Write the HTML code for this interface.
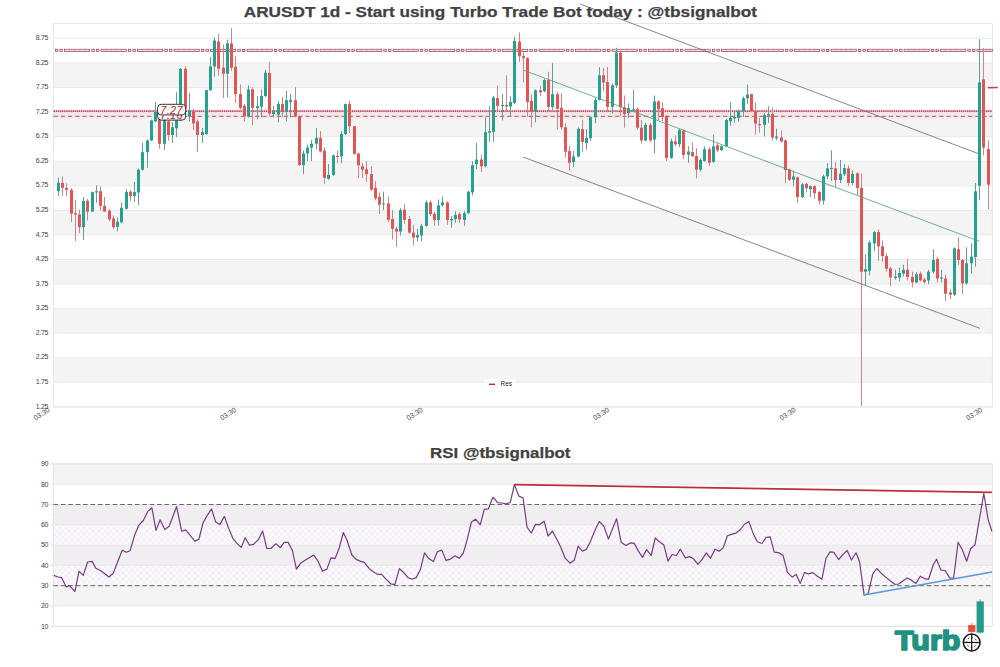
<!DOCTYPE html>
<html><head><meta charset="utf-8"><style>
html,body{margin:0;padding:0;background:#fff;}
body{width:1000px;height:667px;position:relative;overflow:hidden;font-family:"Liberation Sans",sans-serif;}
#root{position:absolute;left:0;top:0;width:1000px;height:667px;}
svg text{font-family:"Liberation Sans",sans-serif;}
.t{position:absolute;left:0;width:1000px;text-align:center;font-weight:bold;color:#424242;-webkit-text-stroke:0.25px #424242;white-space:nowrap;font-family:"Liberation Sans",sans-serif;}
</style></head><body><div id="root">
<svg width="1000" height="667" viewBox="0 0 1000 667" style="position:absolute;left:0;top:0">
<defs><pattern id="hatch" width="6" height="6" patternUnits="userSpaceOnUse"><path d="M0,0 L6,6 M6,0 L0,6" stroke="#ede6f1" stroke-width="0.6"/></pattern><clipPath id="cm"><rect x="53.6" y="23.6" width="938.6999999999999" height="383.4"/></clipPath><clipPath id="cr"><rect x="53.5" y="463.9" width="939.0" height="162.39999999999998"/></clipPath></defs>
<rect x="53.6" y="23.6" width="938.6999999999999" height="383.4" fill="#fff"/>
<rect x="53.6" y="63.0" width="938.6999999999999" height="24.6" fill="#f4f4f4"/>
<rect x="53.6" y="112.1" width="938.6999999999999" height="24.6" fill="#f4f4f4"/>
<rect x="53.6" y="161.2" width="938.6999999999999" height="24.6" fill="#f4f4f4"/>
<rect x="53.6" y="210.4" width="938.6999999999999" height="24.6" fill="#f4f4f4"/>
<rect x="53.6" y="259.5" width="938.6999999999999" height="24.6" fill="#f4f4f4"/>
<rect x="53.6" y="308.6" width="938.6999999999999" height="24.6" fill="#f4f4f4"/>
<rect x="53.6" y="357.7" width="938.6999999999999" height="24.6" fill="#f4f4f4"/>
<line x1="53.6" x2="992.3" y1="38.4" y2="38.4" stroke="#e6e6e6" stroke-width="0.8"/>
<line x1="53.6" x2="992.3" y1="63.0" y2="63.0" stroke="#e6e6e6" stroke-width="0.8"/>
<line x1="53.6" x2="992.3" y1="87.5" y2="87.5" stroke="#e6e6e6" stroke-width="0.8"/>
<line x1="53.6" x2="992.3" y1="112.1" y2="112.1" stroke="#e6e6e6" stroke-width="0.8"/>
<line x1="53.6" x2="992.3" y1="136.7" y2="136.7" stroke="#e6e6e6" stroke-width="0.8"/>
<line x1="53.6" x2="992.3" y1="161.2" y2="161.2" stroke="#e6e6e6" stroke-width="0.8"/>
<line x1="53.6" x2="992.3" y1="185.8" y2="185.8" stroke="#e6e6e6" stroke-width="0.8"/>
<line x1="53.6" x2="992.3" y1="210.4" y2="210.4" stroke="#e6e6e6" stroke-width="0.8"/>
<line x1="53.6" x2="992.3" y1="234.9" y2="234.9" stroke="#e6e6e6" stroke-width="0.8"/>
<line x1="53.6" x2="992.3" y1="259.5" y2="259.5" stroke="#e6e6e6" stroke-width="0.8"/>
<line x1="53.6" x2="992.3" y1="284.1" y2="284.1" stroke="#e6e6e6" stroke-width="0.8"/>
<line x1="53.6" x2="992.3" y1="308.6" y2="308.6" stroke="#e6e6e6" stroke-width="0.8"/>
<line x1="53.6" x2="992.3" y1="333.2" y2="333.2" stroke="#e6e6e6" stroke-width="0.8"/>
<line x1="53.6" x2="992.3" y1="357.7" y2="357.7" stroke="#e6e6e6" stroke-width="0.8"/>
<line x1="53.6" x2="992.3" y1="382.3" y2="382.3" stroke="#e6e6e6" stroke-width="0.8"/>
<line x1="53.6" x2="992.3" y1="406.9" y2="406.9" stroke="#e6e6e6" stroke-width="0.8"/>
<rect x="53.6" y="23.6" width="938.6999999999999" height="383.4" fill="none" stroke="#e2e2e2" stroke-width="0.8"/>
<text x="48.2" y="40.0" text-anchor="end" font-size="7" fill="#444" letter-spacing="-0.3">8.75</text>
<text x="48.2" y="64.6" text-anchor="end" font-size="7" fill="#444" letter-spacing="-0.3">8.25</text>
<text x="48.2" y="89.1" text-anchor="end" font-size="7" fill="#444" letter-spacing="-0.3">7.75</text>
<text x="48.2" y="113.7" text-anchor="end" font-size="7" fill="#444" letter-spacing="-0.3">7.25</text>
<text x="48.2" y="138.3" text-anchor="end" font-size="7" fill="#444" letter-spacing="-0.3">6.75</text>
<text x="48.2" y="162.8" text-anchor="end" font-size="7" fill="#444" letter-spacing="-0.3">6.25</text>
<text x="48.2" y="187.4" text-anchor="end" font-size="7" fill="#444" letter-spacing="-0.3">5.75</text>
<text x="48.2" y="212.0" text-anchor="end" font-size="7" fill="#444" letter-spacing="-0.3">5.25</text>
<text x="48.2" y="236.5" text-anchor="end" font-size="7" fill="#444" letter-spacing="-0.3">4.75</text>
<text x="48.2" y="261.1" text-anchor="end" font-size="7" fill="#444" letter-spacing="-0.3">4.25</text>
<text x="48.2" y="285.7" text-anchor="end" font-size="7" fill="#444" letter-spacing="-0.3">3.75</text>
<text x="48.2" y="310.2" text-anchor="end" font-size="7" fill="#444" letter-spacing="-0.3">3.25</text>
<text x="48.2" y="334.8" text-anchor="end" font-size="7" fill="#444" letter-spacing="-0.3">2.75</text>
<text x="48.2" y="359.3" text-anchor="end" font-size="7" fill="#444" letter-spacing="-0.3">2.25</text>
<text x="48.2" y="383.9" text-anchor="end" font-size="7" fill="#444" letter-spacing="-0.3">1.75</text>
<text x="48.2" y="408.5" text-anchor="end" font-size="7" fill="#444" letter-spacing="-0.3">1.25</text>
<text transform="translate(50.3,411.0) rotate(-33)" text-anchor="end" font-size="7" fill="#444">03:30</text>
<text transform="translate(236.8,411.0) rotate(-33)" text-anchor="end" font-size="7" fill="#444">03:30</text>
<text transform="translate(423.3,411.0) rotate(-33)" text-anchor="end" font-size="7" fill="#444">03:30</text>
<text transform="translate(609.8,411.0) rotate(-33)" text-anchor="end" font-size="7" fill="#444">03:30</text>
<text transform="translate(796.3,411.0) rotate(-33)" text-anchor="end" font-size="7" fill="#444">03:30</text>
<text transform="translate(982.8,411.0) rotate(-33)" text-anchor="end" font-size="7" fill="#444">03:30</text>
<rect x="53.6" y="109.6" width="938.6999999999999" height="8.4" fill="#f5c6cb" fill-opacity="0.28"/>
<line x1="53.6" x2="992.3" y1="111.1" y2="111.1" stroke="#b44858" stroke-width="1.7" stroke-dasharray="1.4,0.7"/>
<line x1="53.6" x2="992.3" y1="116.3" y2="116.3" stroke="#c8505c" stroke-width="1" stroke-dasharray="4.2,3"/>
<rect x="55.30" y="49.2" width="2.60" height="2.40" fill="#f6e0e4" stroke="#8c3444" stroke-width="0.65"/>
<rect x="59.90" y="49.2" width="2.60" height="2.40" fill="#f6e0e4" stroke="#8c3444" stroke-width="0.65"/>
<rect x="64.50" y="49.2" width="25.30" height="2.40" fill="#f6e0e4" stroke="#8c3444" stroke-width="0.65"/>
<line x1="69.56" x2="69.56" y1="49.2" y2="51.6" stroke="#c07080" stroke-width="0.5"/>
<line x1="74.62" x2="74.62" y1="49.2" y2="51.6" stroke="#c07080" stroke-width="0.5"/>
<line x1="79.68" x2="79.68" y1="49.2" y2="51.6" stroke="#c07080" stroke-width="0.5"/>
<line x1="84.74" x2="84.74" y1="49.2" y2="51.6" stroke="#c07080" stroke-width="0.5"/>
<rect x="91.80" y="49.2" width="2.60" height="2.40" fill="#f6e0e4" stroke="#8c3444" stroke-width="0.65"/>
<rect x="96.40" y="49.2" width="2.60" height="2.40" fill="#f6e0e4" stroke="#8c3444" stroke-width="0.65"/>
<rect x="101.00" y="49.2" width="25.30" height="2.40" fill="#f6e0e4" stroke="#8c3444" stroke-width="0.65"/>
<line x1="106.06" x2="106.06" y1="49.2" y2="51.6" stroke="#c07080" stroke-width="0.5"/>
<line x1="111.12" x2="111.12" y1="49.2" y2="51.6" stroke="#c07080" stroke-width="0.5"/>
<line x1="116.18" x2="116.18" y1="49.2" y2="51.6" stroke="#c07080" stroke-width="0.5"/>
<line x1="121.24" x2="121.24" y1="49.2" y2="51.6" stroke="#c07080" stroke-width="0.5"/>
<rect x="128.30" y="49.2" width="2.60" height="2.40" fill="#f6e0e4" stroke="#8c3444" stroke-width="0.65"/>
<rect x="132.90" y="49.2" width="2.60" height="2.40" fill="#f6e0e4" stroke="#8c3444" stroke-width="0.65"/>
<rect x="137.50" y="49.2" width="25.30" height="2.40" fill="#f6e0e4" stroke="#8c3444" stroke-width="0.65"/>
<line x1="142.56" x2="142.56" y1="49.2" y2="51.6" stroke="#c07080" stroke-width="0.5"/>
<line x1="147.62" x2="147.62" y1="49.2" y2="51.6" stroke="#c07080" stroke-width="0.5"/>
<line x1="152.68" x2="152.68" y1="49.2" y2="51.6" stroke="#c07080" stroke-width="0.5"/>
<line x1="157.74" x2="157.74" y1="49.2" y2="51.6" stroke="#c07080" stroke-width="0.5"/>
<rect x="164.80" y="49.2" width="2.60" height="2.40" fill="#f6e0e4" stroke="#8c3444" stroke-width="0.65"/>
<rect x="169.40" y="49.2" width="2.60" height="2.40" fill="#f6e0e4" stroke="#8c3444" stroke-width="0.65"/>
<rect x="174.00" y="49.2" width="25.30" height="2.40" fill="#f6e0e4" stroke="#8c3444" stroke-width="0.65"/>
<line x1="179.06" x2="179.06" y1="49.2" y2="51.6" stroke="#c07080" stroke-width="0.5"/>
<line x1="184.12" x2="184.12" y1="49.2" y2="51.6" stroke="#c07080" stroke-width="0.5"/>
<line x1="189.18" x2="189.18" y1="49.2" y2="51.6" stroke="#c07080" stroke-width="0.5"/>
<line x1="194.24" x2="194.24" y1="49.2" y2="51.6" stroke="#c07080" stroke-width="0.5"/>
<rect x="201.30" y="49.2" width="2.60" height="2.40" fill="#f6e0e4" stroke="#8c3444" stroke-width="0.65"/>
<rect x="205.90" y="49.2" width="2.60" height="2.40" fill="#f6e0e4" stroke="#8c3444" stroke-width="0.65"/>
<rect x="210.50" y="49.2" width="25.30" height="2.40" fill="#f6e0e4" stroke="#8c3444" stroke-width="0.65"/>
<line x1="215.56" x2="215.56" y1="49.2" y2="51.6" stroke="#c07080" stroke-width="0.5"/>
<line x1="220.62" x2="220.62" y1="49.2" y2="51.6" stroke="#c07080" stroke-width="0.5"/>
<line x1="225.68" x2="225.68" y1="49.2" y2="51.6" stroke="#c07080" stroke-width="0.5"/>
<line x1="230.74" x2="230.74" y1="49.2" y2="51.6" stroke="#c07080" stroke-width="0.5"/>
<rect x="237.80" y="49.2" width="2.60" height="2.40" fill="#f6e0e4" stroke="#8c3444" stroke-width="0.65"/>
<rect x="242.40" y="49.2" width="2.60" height="2.40" fill="#f6e0e4" stroke="#8c3444" stroke-width="0.65"/>
<rect x="247.00" y="49.2" width="25.30" height="2.40" fill="#f6e0e4" stroke="#8c3444" stroke-width="0.65"/>
<line x1="252.06" x2="252.06" y1="49.2" y2="51.6" stroke="#c07080" stroke-width="0.5"/>
<line x1="257.12" x2="257.12" y1="49.2" y2="51.6" stroke="#c07080" stroke-width="0.5"/>
<line x1="262.18" x2="262.18" y1="49.2" y2="51.6" stroke="#c07080" stroke-width="0.5"/>
<line x1="267.24" x2="267.24" y1="49.2" y2="51.6" stroke="#c07080" stroke-width="0.5"/>
<rect x="274.30" y="49.2" width="2.60" height="2.40" fill="#f6e0e4" stroke="#8c3444" stroke-width="0.65"/>
<rect x="278.90" y="49.2" width="2.60" height="2.40" fill="#f6e0e4" stroke="#8c3444" stroke-width="0.65"/>
<rect x="283.50" y="49.2" width="25.30" height="2.40" fill="#f6e0e4" stroke="#8c3444" stroke-width="0.65"/>
<line x1="288.56" x2="288.56" y1="49.2" y2="51.6" stroke="#c07080" stroke-width="0.5"/>
<line x1="293.62" x2="293.62" y1="49.2" y2="51.6" stroke="#c07080" stroke-width="0.5"/>
<line x1="298.68" x2="298.68" y1="49.2" y2="51.6" stroke="#c07080" stroke-width="0.5"/>
<line x1="303.74" x2="303.74" y1="49.2" y2="51.6" stroke="#c07080" stroke-width="0.5"/>
<rect x="310.80" y="49.2" width="2.60" height="2.40" fill="#f6e0e4" stroke="#8c3444" stroke-width="0.65"/>
<rect x="315.40" y="49.2" width="2.60" height="2.40" fill="#f6e0e4" stroke="#8c3444" stroke-width="0.65"/>
<rect x="320.00" y="49.2" width="25.30" height="2.40" fill="#f6e0e4" stroke="#8c3444" stroke-width="0.65"/>
<line x1="325.06" x2="325.06" y1="49.2" y2="51.6" stroke="#c07080" stroke-width="0.5"/>
<line x1="330.12" x2="330.12" y1="49.2" y2="51.6" stroke="#c07080" stroke-width="0.5"/>
<line x1="335.18" x2="335.18" y1="49.2" y2="51.6" stroke="#c07080" stroke-width="0.5"/>
<line x1="340.24" x2="340.24" y1="49.2" y2="51.6" stroke="#c07080" stroke-width="0.5"/>
<rect x="347.30" y="49.2" width="2.60" height="2.40" fill="#f6e0e4" stroke="#8c3444" stroke-width="0.65"/>
<rect x="351.90" y="49.2" width="2.60" height="2.40" fill="#f6e0e4" stroke="#8c3444" stroke-width="0.65"/>
<rect x="356.50" y="49.2" width="25.30" height="2.40" fill="#f6e0e4" stroke="#8c3444" stroke-width="0.65"/>
<line x1="361.56" x2="361.56" y1="49.2" y2="51.6" stroke="#c07080" stroke-width="0.5"/>
<line x1="366.62" x2="366.62" y1="49.2" y2="51.6" stroke="#c07080" stroke-width="0.5"/>
<line x1="371.68" x2="371.68" y1="49.2" y2="51.6" stroke="#c07080" stroke-width="0.5"/>
<line x1="376.74" x2="376.74" y1="49.2" y2="51.6" stroke="#c07080" stroke-width="0.5"/>
<rect x="383.80" y="49.2" width="2.60" height="2.40" fill="#f6e0e4" stroke="#8c3444" stroke-width="0.65"/>
<rect x="388.40" y="49.2" width="2.60" height="2.40" fill="#f6e0e4" stroke="#8c3444" stroke-width="0.65"/>
<rect x="393.00" y="49.2" width="25.30" height="2.40" fill="#f6e0e4" stroke="#8c3444" stroke-width="0.65"/>
<line x1="398.06" x2="398.06" y1="49.2" y2="51.6" stroke="#c07080" stroke-width="0.5"/>
<line x1="403.12" x2="403.12" y1="49.2" y2="51.6" stroke="#c07080" stroke-width="0.5"/>
<line x1="408.18" x2="408.18" y1="49.2" y2="51.6" stroke="#c07080" stroke-width="0.5"/>
<line x1="413.24" x2="413.24" y1="49.2" y2="51.6" stroke="#c07080" stroke-width="0.5"/>
<rect x="420.30" y="49.2" width="2.60" height="2.40" fill="#f6e0e4" stroke="#8c3444" stroke-width="0.65"/>
<rect x="424.90" y="49.2" width="2.60" height="2.40" fill="#f6e0e4" stroke="#8c3444" stroke-width="0.65"/>
<rect x="429.50" y="49.2" width="25.30" height="2.40" fill="#f6e0e4" stroke="#8c3444" stroke-width="0.65"/>
<line x1="434.56" x2="434.56" y1="49.2" y2="51.6" stroke="#c07080" stroke-width="0.5"/>
<line x1="439.62" x2="439.62" y1="49.2" y2="51.6" stroke="#c07080" stroke-width="0.5"/>
<line x1="444.68" x2="444.68" y1="49.2" y2="51.6" stroke="#c07080" stroke-width="0.5"/>
<line x1="449.74" x2="449.74" y1="49.2" y2="51.6" stroke="#c07080" stroke-width="0.5"/>
<rect x="456.80" y="49.2" width="2.60" height="2.40" fill="#f6e0e4" stroke="#8c3444" stroke-width="0.65"/>
<rect x="461.40" y="49.2" width="2.60" height="2.40" fill="#f6e0e4" stroke="#8c3444" stroke-width="0.65"/>
<rect x="466.00" y="49.2" width="25.30" height="2.40" fill="#f6e0e4" stroke="#8c3444" stroke-width="0.65"/>
<line x1="471.06" x2="471.06" y1="49.2" y2="51.6" stroke="#c07080" stroke-width="0.5"/>
<line x1="476.12" x2="476.12" y1="49.2" y2="51.6" stroke="#c07080" stroke-width="0.5"/>
<line x1="481.18" x2="481.18" y1="49.2" y2="51.6" stroke="#c07080" stroke-width="0.5"/>
<line x1="486.24" x2="486.24" y1="49.2" y2="51.6" stroke="#c07080" stroke-width="0.5"/>
<rect x="493.30" y="49.2" width="2.60" height="2.40" fill="#f6e0e4" stroke="#8c3444" stroke-width="0.65"/>
<rect x="497.90" y="49.2" width="2.60" height="2.40" fill="#f6e0e4" stroke="#8c3444" stroke-width="0.65"/>
<rect x="502.50" y="49.2" width="25.30" height="2.40" fill="#f6e0e4" stroke="#8c3444" stroke-width="0.65"/>
<line x1="507.56" x2="507.56" y1="49.2" y2="51.6" stroke="#c07080" stroke-width="0.5"/>
<line x1="512.62" x2="512.62" y1="49.2" y2="51.6" stroke="#c07080" stroke-width="0.5"/>
<line x1="517.68" x2="517.68" y1="49.2" y2="51.6" stroke="#c07080" stroke-width="0.5"/>
<line x1="522.74" x2="522.74" y1="49.2" y2="51.6" stroke="#c07080" stroke-width="0.5"/>
<rect x="529.80" y="49.2" width="2.60" height="2.40" fill="#f6e0e4" stroke="#8c3444" stroke-width="0.65"/>
<rect x="534.40" y="49.2" width="2.60" height="2.40" fill="#f6e0e4" stroke="#8c3444" stroke-width="0.65"/>
<rect x="539.00" y="49.2" width="25.30" height="2.40" fill="#f6e0e4" stroke="#8c3444" stroke-width="0.65"/>
<line x1="544.06" x2="544.06" y1="49.2" y2="51.6" stroke="#c07080" stroke-width="0.5"/>
<line x1="549.12" x2="549.12" y1="49.2" y2="51.6" stroke="#c07080" stroke-width="0.5"/>
<line x1="554.18" x2="554.18" y1="49.2" y2="51.6" stroke="#c07080" stroke-width="0.5"/>
<line x1="559.24" x2="559.24" y1="49.2" y2="51.6" stroke="#c07080" stroke-width="0.5"/>
<rect x="566.30" y="49.2" width="2.60" height="2.40" fill="#f6e0e4" stroke="#8c3444" stroke-width="0.65"/>
<rect x="570.90" y="49.2" width="2.60" height="2.40" fill="#f6e0e4" stroke="#8c3444" stroke-width="0.65"/>
<rect x="575.50" y="49.2" width="25.30" height="2.40" fill="#f6e0e4" stroke="#8c3444" stroke-width="0.65"/>
<line x1="580.56" x2="580.56" y1="49.2" y2="51.6" stroke="#c07080" stroke-width="0.5"/>
<line x1="585.62" x2="585.62" y1="49.2" y2="51.6" stroke="#c07080" stroke-width="0.5"/>
<line x1="590.68" x2="590.68" y1="49.2" y2="51.6" stroke="#c07080" stroke-width="0.5"/>
<line x1="595.74" x2="595.74" y1="49.2" y2="51.6" stroke="#c07080" stroke-width="0.5"/>
<rect x="602.80" y="49.2" width="2.60" height="2.40" fill="#f6e0e4" stroke="#8c3444" stroke-width="0.65"/>
<rect x="607.40" y="49.2" width="2.60" height="2.40" fill="#f6e0e4" stroke="#8c3444" stroke-width="0.65"/>
<rect x="612.00" y="49.2" width="25.30" height="2.40" fill="#f6e0e4" stroke="#8c3444" stroke-width="0.65"/>
<line x1="617.06" x2="617.06" y1="49.2" y2="51.6" stroke="#c07080" stroke-width="0.5"/>
<line x1="622.12" x2="622.12" y1="49.2" y2="51.6" stroke="#c07080" stroke-width="0.5"/>
<line x1="627.18" x2="627.18" y1="49.2" y2="51.6" stroke="#c07080" stroke-width="0.5"/>
<line x1="632.24" x2="632.24" y1="49.2" y2="51.6" stroke="#c07080" stroke-width="0.5"/>
<rect x="639.30" y="49.2" width="2.60" height="2.40" fill="#f6e0e4" stroke="#8c3444" stroke-width="0.65"/>
<rect x="643.90" y="49.2" width="2.60" height="2.40" fill="#f6e0e4" stroke="#8c3444" stroke-width="0.65"/>
<rect x="648.50" y="49.2" width="25.30" height="2.40" fill="#f6e0e4" stroke="#8c3444" stroke-width="0.65"/>
<line x1="653.56" x2="653.56" y1="49.2" y2="51.6" stroke="#c07080" stroke-width="0.5"/>
<line x1="658.62" x2="658.62" y1="49.2" y2="51.6" stroke="#c07080" stroke-width="0.5"/>
<line x1="663.68" x2="663.68" y1="49.2" y2="51.6" stroke="#c07080" stroke-width="0.5"/>
<line x1="668.74" x2="668.74" y1="49.2" y2="51.6" stroke="#c07080" stroke-width="0.5"/>
<rect x="675.80" y="49.2" width="2.60" height="2.40" fill="#f6e0e4" stroke="#8c3444" stroke-width="0.65"/>
<rect x="680.40" y="49.2" width="2.60" height="2.40" fill="#f6e0e4" stroke="#8c3444" stroke-width="0.65"/>
<rect x="685.00" y="49.2" width="25.30" height="2.40" fill="#f6e0e4" stroke="#8c3444" stroke-width="0.65"/>
<line x1="690.06" x2="690.06" y1="49.2" y2="51.6" stroke="#c07080" stroke-width="0.5"/>
<line x1="695.12" x2="695.12" y1="49.2" y2="51.6" stroke="#c07080" stroke-width="0.5"/>
<line x1="700.18" x2="700.18" y1="49.2" y2="51.6" stroke="#c07080" stroke-width="0.5"/>
<line x1="705.24" x2="705.24" y1="49.2" y2="51.6" stroke="#c07080" stroke-width="0.5"/>
<rect x="712.30" y="49.2" width="2.60" height="2.40" fill="#f6e0e4" stroke="#8c3444" stroke-width="0.65"/>
<rect x="716.90" y="49.2" width="2.60" height="2.40" fill="#f6e0e4" stroke="#8c3444" stroke-width="0.65"/>
<rect x="721.50" y="49.2" width="25.30" height="2.40" fill="#f6e0e4" stroke="#8c3444" stroke-width="0.65"/>
<line x1="726.56" x2="726.56" y1="49.2" y2="51.6" stroke="#c07080" stroke-width="0.5"/>
<line x1="731.62" x2="731.62" y1="49.2" y2="51.6" stroke="#c07080" stroke-width="0.5"/>
<line x1="736.68" x2="736.68" y1="49.2" y2="51.6" stroke="#c07080" stroke-width="0.5"/>
<line x1="741.74" x2="741.74" y1="49.2" y2="51.6" stroke="#c07080" stroke-width="0.5"/>
<rect x="748.80" y="49.2" width="2.60" height="2.40" fill="#f6e0e4" stroke="#8c3444" stroke-width="0.65"/>
<rect x="753.40" y="49.2" width="2.60" height="2.40" fill="#f6e0e4" stroke="#8c3444" stroke-width="0.65"/>
<rect x="758.00" y="49.2" width="25.30" height="2.40" fill="#f6e0e4" stroke="#8c3444" stroke-width="0.65"/>
<line x1="763.06" x2="763.06" y1="49.2" y2="51.6" stroke="#c07080" stroke-width="0.5"/>
<line x1="768.12" x2="768.12" y1="49.2" y2="51.6" stroke="#c07080" stroke-width="0.5"/>
<line x1="773.18" x2="773.18" y1="49.2" y2="51.6" stroke="#c07080" stroke-width="0.5"/>
<line x1="778.24" x2="778.24" y1="49.2" y2="51.6" stroke="#c07080" stroke-width="0.5"/>
<rect x="785.30" y="49.2" width="2.60" height="2.40" fill="#f6e0e4" stroke="#8c3444" stroke-width="0.65"/>
<rect x="789.90" y="49.2" width="2.60" height="2.40" fill="#f6e0e4" stroke="#8c3444" stroke-width="0.65"/>
<rect x="794.50" y="49.2" width="25.30" height="2.40" fill="#f6e0e4" stroke="#8c3444" stroke-width="0.65"/>
<line x1="799.56" x2="799.56" y1="49.2" y2="51.6" stroke="#c07080" stroke-width="0.5"/>
<line x1="804.62" x2="804.62" y1="49.2" y2="51.6" stroke="#c07080" stroke-width="0.5"/>
<line x1="809.68" x2="809.68" y1="49.2" y2="51.6" stroke="#c07080" stroke-width="0.5"/>
<line x1="814.74" x2="814.74" y1="49.2" y2="51.6" stroke="#c07080" stroke-width="0.5"/>
<rect x="821.80" y="49.2" width="2.60" height="2.40" fill="#f6e0e4" stroke="#8c3444" stroke-width="0.65"/>
<rect x="826.40" y="49.2" width="2.60" height="2.40" fill="#f6e0e4" stroke="#8c3444" stroke-width="0.65"/>
<rect x="831.00" y="49.2" width="25.30" height="2.40" fill="#f6e0e4" stroke="#8c3444" stroke-width="0.65"/>
<line x1="836.06" x2="836.06" y1="49.2" y2="51.6" stroke="#c07080" stroke-width="0.5"/>
<line x1="841.12" x2="841.12" y1="49.2" y2="51.6" stroke="#c07080" stroke-width="0.5"/>
<line x1="846.18" x2="846.18" y1="49.2" y2="51.6" stroke="#c07080" stroke-width="0.5"/>
<line x1="851.24" x2="851.24" y1="49.2" y2="51.6" stroke="#c07080" stroke-width="0.5"/>
<rect x="858.30" y="49.2" width="2.60" height="2.40" fill="#f6e0e4" stroke="#8c3444" stroke-width="0.65"/>
<rect x="862.90" y="49.2" width="2.60" height="2.40" fill="#f6e0e4" stroke="#8c3444" stroke-width="0.65"/>
<rect x="867.50" y="49.2" width="25.30" height="2.40" fill="#f6e0e4" stroke="#8c3444" stroke-width="0.65"/>
<line x1="872.56" x2="872.56" y1="49.2" y2="51.6" stroke="#c07080" stroke-width="0.5"/>
<line x1="877.62" x2="877.62" y1="49.2" y2="51.6" stroke="#c07080" stroke-width="0.5"/>
<line x1="882.68" x2="882.68" y1="49.2" y2="51.6" stroke="#c07080" stroke-width="0.5"/>
<line x1="887.74" x2="887.74" y1="49.2" y2="51.6" stroke="#c07080" stroke-width="0.5"/>
<rect x="894.80" y="49.2" width="2.60" height="2.40" fill="#f6e0e4" stroke="#8c3444" stroke-width="0.65"/>
<rect x="899.40" y="49.2" width="2.60" height="2.40" fill="#f6e0e4" stroke="#8c3444" stroke-width="0.65"/>
<rect x="904.00" y="49.2" width="25.30" height="2.40" fill="#f6e0e4" stroke="#8c3444" stroke-width="0.65"/>
<line x1="909.06" x2="909.06" y1="49.2" y2="51.6" stroke="#c07080" stroke-width="0.5"/>
<line x1="914.12" x2="914.12" y1="49.2" y2="51.6" stroke="#c07080" stroke-width="0.5"/>
<line x1="919.18" x2="919.18" y1="49.2" y2="51.6" stroke="#c07080" stroke-width="0.5"/>
<line x1="924.24" x2="924.24" y1="49.2" y2="51.6" stroke="#c07080" stroke-width="0.5"/>
<rect x="931.30" y="49.2" width="2.60" height="2.40" fill="#f6e0e4" stroke="#8c3444" stroke-width="0.65"/>
<rect x="935.90" y="49.2" width="2.60" height="2.40" fill="#f6e0e4" stroke="#8c3444" stroke-width="0.65"/>
<rect x="940.50" y="49.2" width="25.30" height="2.40" fill="#f6e0e4" stroke="#8c3444" stroke-width="0.65"/>
<line x1="945.56" x2="945.56" y1="49.2" y2="51.6" stroke="#c07080" stroke-width="0.5"/>
<line x1="950.62" x2="950.62" y1="49.2" y2="51.6" stroke="#c07080" stroke-width="0.5"/>
<line x1="955.68" x2="955.68" y1="49.2" y2="51.6" stroke="#c07080" stroke-width="0.5"/>
<line x1="960.74" x2="960.74" y1="49.2" y2="51.6" stroke="#c07080" stroke-width="0.5"/>
<rect x="967.80" y="49.2" width="2.60" height="2.40" fill="#f6e0e4" stroke="#8c3444" stroke-width="0.65"/>
<rect x="972.40" y="49.2" width="2.60" height="2.40" fill="#f6e0e4" stroke="#8c3444" stroke-width="0.65"/>
<rect x="977.00" y="49.2" width="15.30" height="2.40" fill="#f6e0e4" stroke="#8c3444" stroke-width="0.65"/>
<line x1="980.06" x2="980.06" y1="49.2" y2="51.6" stroke="#c07080" stroke-width="0.5"/>
<line x1="983.12" x2="983.12" y1="49.2" y2="51.6" stroke="#c07080" stroke-width="0.5"/>
<line x1="986.18" x2="986.18" y1="49.2" y2="51.6" stroke="#c07080" stroke-width="0.5"/>
<line x1="989.24" x2="989.24" y1="49.2" y2="51.6" stroke="#c07080" stroke-width="0.5"/>
<g clip-path="url(#cm)">
<line x1="58.50" x2="58.50" y1="177.5" y2="196.0" stroke="#6a9c95" stroke-width="1"/>
<rect x="57" y="182.8" width="3" height="8.4" fill="#26a08f"/>
<line x1="62.50" x2="62.50" y1="176.5" y2="196.0" stroke="#c8878c" stroke-width="1"/>
<rect x="61" y="182.8" width="3" height="5.0" fill="#e05555"/>
<line x1="66.50" x2="66.50" y1="183.4" y2="196.0" stroke="#c8878c" stroke-width="1"/>
<rect x="65" y="187.8" width="3" height="2.0" fill="#e05555"/>
<line x1="71.50" x2="71.50" y1="188.2" y2="222.3" stroke="#c8878c" stroke-width="1"/>
<rect x="70" y="189.8" width="3" height="23.8" fill="#e05555"/>
<line x1="75.50" x2="75.50" y1="200.0" y2="240.9" stroke="#c8878c" stroke-width="1"/>
<rect x="74" y="213.2" width="3" height="1.3" fill="#e05555"/>
<line x1="79.50" x2="79.50" y1="209.7" y2="233.0" stroke="#c8878c" stroke-width="1"/>
<rect x="78" y="214.5" width="3" height="12.7" fill="#e05555"/>
<line x1="83.50" x2="83.50" y1="197.0" y2="239.9" stroke="#6a9c95" stroke-width="1"/>
<rect x="82" y="200.9" width="3" height="26.3" fill="#26a08f"/>
<line x1="87.50" x2="87.50" y1="199.0" y2="220.4" stroke="#c8878c" stroke-width="1"/>
<rect x="86" y="200.9" width="3" height="10.7" fill="#e05555"/>
<line x1="92.50" x2="92.50" y1="191.7" y2="212.0" stroke="#6a9c95" stroke-width="1"/>
<rect x="91" y="192.1" width="3" height="19.5" fill="#26a08f"/>
<line x1="96.50" x2="96.50" y1="185.3" y2="202.8" stroke="#6a9c95" stroke-width="1"/>
<rect x="95" y="191.2" width="3" height="1.3" fill="#26a08f"/>
<line x1="100.50" x2="100.50" y1="186.3" y2="210.6" stroke="#c8878c" stroke-width="1"/>
<rect x="99" y="191.2" width="3" height="14.6" fill="#e05555"/>
<line x1="104.50" x2="104.50" y1="197.0" y2="211.6" stroke="#c8878c" stroke-width="1"/>
<rect x="103" y="205.8" width="3" height="5.8" fill="#e05555"/>
<line x1="109.50" x2="109.50" y1="208.7" y2="221.4" stroke="#c8878c" stroke-width="1"/>
<rect x="108" y="210.6" width="3" height="8.8" fill="#e05555"/>
<line x1="113.50" x2="113.50" y1="215.5" y2="229.2" stroke="#c8878c" stroke-width="1"/>
<rect x="112" y="218.4" width="3" height="8.8" fill="#e05555"/>
<line x1="117.50" x2="117.50" y1="217.5" y2="231.5" stroke="#6a9c95" stroke-width="1"/>
<rect x="116" y="221.8" width="3" height="5.0" fill="#26a08f"/>
<line x1="121.50" x2="121.50" y1="202.8" y2="223.3" stroke="#6a9c95" stroke-width="1"/>
<rect x="120" y="207.7" width="3" height="14.6" fill="#26a08f"/>
<line x1="126.50" x2="126.50" y1="189.2" y2="209.7" stroke="#6a9c95" stroke-width="1"/>
<rect x="125" y="192.1" width="3" height="16.6" fill="#26a08f"/>
<line x1="130.50" x2="130.50" y1="190.2" y2="200.9" stroke="#c8878c" stroke-width="1"/>
<rect x="129" y="191.7" width="3" height="4.3" fill="#e05555"/>
<line x1="134.50" x2="134.50" y1="182.0" y2="201.9" stroke="#6a9c95" stroke-width="1"/>
<rect x="133" y="192.1" width="3" height="3.9" fill="#26a08f"/>
<line x1="138.50" x2="138.50" y1="168.7" y2="204.8" stroke="#6a9c95" stroke-width="1"/>
<rect x="137" y="169.7" width="3" height="22.8" fill="#26a08f"/>
<line x1="142.50" x2="142.50" y1="143.0" y2="170.7" stroke="#6a9c95" stroke-width="1"/>
<rect x="141" y="152.2" width="3" height="17.5" fill="#26a08f"/>
<line x1="147.50" x2="147.50" y1="139.5" y2="167.8" stroke="#6a9c95" stroke-width="1"/>
<rect x="146" y="140.5" width="3" height="11.7" fill="#26a08f"/>
<line x1="151.50" x2="151.50" y1="119.5" y2="141.0" stroke="#6a9c95" stroke-width="1"/>
<rect x="150" y="120.4" width="3" height="20.1" fill="#26a08f"/>
<line x1="155.50" x2="155.50" y1="102.0" y2="122.0" stroke="#6a9c95" stroke-width="1"/>
<rect x="154" y="112.0" width="3" height="9.4" fill="#26a08f"/>
<line x1="159.50" x2="159.50" y1="118.0" y2="148.7" stroke="#c8878c" stroke-width="1"/>
<rect x="158" y="119.5" width="3" height="24.3" fill="#e05555"/>
<line x1="164.50" x2="164.50" y1="118.0" y2="150.0" stroke="#6a9c95" stroke-width="1"/>
<rect x="163" y="119.5" width="3" height="24.3" fill="#26a08f"/>
<line x1="168.50" x2="168.50" y1="117.5" y2="140.9" stroke="#c8878c" stroke-width="1"/>
<rect x="167" y="121.4" width="3" height="13.6" fill="#e05555"/>
<line x1="172.50" x2="172.50" y1="122.4" y2="142.9" stroke="#6a9c95" stroke-width="1"/>
<rect x="171" y="127.3" width="3" height="7.7" fill="#26a08f"/>
<line x1="176.50" x2="176.50" y1="92.0" y2="137.0" stroke="#6a9c95" stroke-width="1"/>
<rect x="175" y="120.4" width="3" height="7.8" fill="#26a08f"/>
<line x1="180.50" x2="180.50" y1="68.0" y2="121.0" stroke="#6a9c95" stroke-width="1"/>
<rect x="179" y="68.8" width="3" height="51.6" fill="#26a08f"/>
<line x1="185.50" x2="185.50" y1="66.4" y2="113.6" stroke="#c8878c" stroke-width="1"/>
<rect x="184" y="68.8" width="3" height="39.9" fill="#e05555"/>
<line x1="189.50" x2="189.50" y1="93.0" y2="121.4" stroke="#6a9c95" stroke-width="1"/>
<rect x="188" y="110.7" width="3" height="5.8" fill="#26a08f"/>
<line x1="193.50" x2="193.50" y1="108.7" y2="130.2" stroke="#c8878c" stroke-width="1"/>
<rect x="192" y="111.7" width="3" height="11.7" fill="#e05555"/>
<line x1="197.50" x2="197.50" y1="119.5" y2="152.0" stroke="#c8878c" stroke-width="1"/>
<rect x="196" y="121.4" width="3" height="13.6" fill="#e05555"/>
<line x1="202.50" x2="202.50" y1="128.0" y2="143.0" stroke="#6a9c95" stroke-width="1"/>
<rect x="201" y="132.0" width="3" height="3.0" fill="#26a08f"/>
<line x1="206.50" x2="206.50" y1="89.5" y2="135.0" stroke="#6a9c95" stroke-width="1"/>
<rect x="205" y="90.2" width="3" height="43.8" fill="#26a08f"/>
<line x1="210.50" x2="210.50" y1="57.0" y2="91.0" stroke="#6a9c95" stroke-width="1"/>
<rect x="209" y="66.4" width="3" height="23.8" fill="#26a08f"/>
<line x1="214.50" x2="214.50" y1="37.6" y2="76.6" stroke="#6a9c95" stroke-width="1"/>
<rect x="213" y="40.5" width="3" height="25.9" fill="#26a08f"/>
<line x1="218.50" x2="218.50" y1="33.7" y2="75.6" stroke="#c8878c" stroke-width="1"/>
<rect x="217" y="41.5" width="3" height="27.3" fill="#e05555"/>
<line x1="223.50" x2="223.50" y1="44.4" y2="98.0" stroke="#c8878c" stroke-width="1"/>
<rect x="222" y="67.8" width="3" height="5.9" fill="#e05555"/>
<line x1="227.50" x2="227.50" y1="39.5" y2="97.0" stroke="#6a9c95" stroke-width="1"/>
<rect x="226" y="43.4" width="3" height="30.3" fill="#26a08f"/>
<line x1="231.50" x2="231.50" y1="28.2" y2="70.7" stroke="#c8878c" stroke-width="1"/>
<rect x="230" y="43.4" width="3" height="24.4" fill="#e05555"/>
<line x1="235.50" x2="235.50" y1="56.0" y2="103.0" stroke="#c8878c" stroke-width="1"/>
<rect x="234" y="66.8" width="3" height="27.3" fill="#e05555"/>
<line x1="240.50" x2="240.50" y1="84.4" y2="109.7" stroke="#c8878c" stroke-width="1"/>
<rect x="239" y="94.1" width="3" height="13.7" fill="#e05555"/>
<line x1="244.50" x2="244.50" y1="103.9" y2="121.4" stroke="#c8878c" stroke-width="1"/>
<rect x="243" y="105.8" width="3" height="10.7" fill="#e05555"/>
<line x1="248.50" x2="248.50" y1="85.4" y2="117.5" stroke="#6a9c95" stroke-width="1"/>
<rect x="247" y="89.3" width="3" height="27.2" fill="#26a08f"/>
<line x1="252.50" x2="252.50" y1="87.3" y2="125.3" stroke="#c8878c" stroke-width="1"/>
<rect x="251" y="89.3" width="3" height="18.5" fill="#e05555"/>
<line x1="257.50" x2="257.50" y1="96.0" y2="119.5" stroke="#6a9c95" stroke-width="1"/>
<rect x="256" y="106.2" width="3" height="2.0" fill="#26a08f"/>
<line x1="261.50" x2="261.50" y1="89.3" y2="117.5" stroke="#6a9c95" stroke-width="1"/>
<rect x="260" y="96.0" width="3" height="10.8" fill="#26a08f"/>
<line x1="265.50" x2="265.50" y1="69.8" y2="97.0" stroke="#6a9c95" stroke-width="1"/>
<rect x="264" y="72.7" width="3" height="23.3" fill="#26a08f"/>
<line x1="269.50" x2="269.50" y1="62.0" y2="115.6" stroke="#c8878c" stroke-width="1"/>
<rect x="268" y="73.0" width="3" height="40.6" fill="#e05555"/>
<line x1="273.50" x2="273.50" y1="105.8" y2="117.5" stroke="#6a9c95" stroke-width="1"/>
<rect x="272" y="111.7" width="3" height="2.3" fill="#26a08f"/>
<line x1="278.50" x2="278.50" y1="101.0" y2="122.4" stroke="#6a9c95" stroke-width="1"/>
<rect x="277" y="103.9" width="3" height="10.7" fill="#26a08f"/>
<line x1="282.50" x2="282.50" y1="97.0" y2="117.5" stroke="#c8878c" stroke-width="1"/>
<rect x="281" y="103.9" width="3" height="7.8" fill="#e05555"/>
<line x1="286.50" x2="286.50" y1="91.0" y2="121.3" stroke="#6a9c95" stroke-width="1"/>
<rect x="285" y="100.2" width="3" height="11.3" fill="#26a08f"/>
<line x1="290.50" x2="290.50" y1="94.0" y2="117.4" stroke="#6a9c95" stroke-width="1"/>
<rect x="289" y="99.8" width="3" height="2.0" fill="#26a08f"/>
<line x1="295.50" x2="295.50" y1="87.2" y2="117.4" stroke="#c8878c" stroke-width="1"/>
<rect x="294" y="100.2" width="3" height="16.2" fill="#e05555"/>
<line x1="299.50" x2="299.50" y1="115.8" y2="165.8" stroke="#c8878c" stroke-width="1"/>
<rect x="298" y="116.4" width="3" height="48.7" fill="#e05555"/>
<line x1="303.50" x2="303.50" y1="150.5" y2="174.3" stroke="#6a9c95" stroke-width="1"/>
<rect x="302" y="153.4" width="3" height="11.7" fill="#26a08f"/>
<line x1="307.50" x2="307.50" y1="144.7" y2="161.2" stroke="#6a9c95" stroke-width="1"/>
<rect x="306" y="147.6" width="3" height="5.8" fill="#26a08f"/>
<line x1="311.50" x2="311.50" y1="139.8" y2="161.2" stroke="#6a9c95" stroke-width="1"/>
<rect x="310" y="143.7" width="3" height="3.9" fill="#26a08f"/>
<line x1="316.50" x2="316.50" y1="128.0" y2="149.5" stroke="#6a9c95" stroke-width="1"/>
<rect x="315" y="137.8" width="3" height="5.9" fill="#26a08f"/>
<line x1="320.50" x2="320.50" y1="131.0" y2="152.5" stroke="#c8878c" stroke-width="1"/>
<rect x="319" y="137.8" width="3" height="13.7" fill="#e05555"/>
<line x1="324.50" x2="324.50" y1="147.6" y2="183.7" stroke="#c8878c" stroke-width="1"/>
<rect x="323" y="150.5" width="3" height="27.3" fill="#e05555"/>
<line x1="328.50" x2="328.50" y1="164.0" y2="179.8" stroke="#6a9c95" stroke-width="1"/>
<rect x="327" y="174.9" width="3" height="3.9" fill="#26a08f"/>
<line x1="333.50" x2="333.50" y1="154.4" y2="175.9" stroke="#6a9c95" stroke-width="1"/>
<rect x="332" y="155.4" width="3" height="19.5" fill="#26a08f"/>
<line x1="337.50" x2="337.50" y1="150.5" y2="163.2" stroke="#c8878c" stroke-width="1"/>
<rect x="336" y="155.8" width="3" height="1.2" fill="#e05555"/>
<line x1="341.50" x2="341.50" y1="131.0" y2="163.2" stroke="#6a9c95" stroke-width="1"/>
<rect x="340" y="134.0" width="3" height="22.4" fill="#26a08f"/>
<line x1="345.50" x2="345.50" y1="103.6" y2="134.9" stroke="#6a9c95" stroke-width="1"/>
<rect x="344" y="104.1" width="3" height="29.9" fill="#26a08f"/>
<line x1="349.50" x2="349.50" y1="100.8" y2="133.0" stroke="#c8878c" stroke-width="1"/>
<rect x="348" y="104.1" width="3" height="22.1" fill="#e05555"/>
<line x1="354.50" x2="354.50" y1="126.0" y2="154.6" stroke="#c8878c" stroke-width="1"/>
<rect x="353" y="126.2" width="3" height="27.8" fill="#e05555"/>
<line x1="358.50" x2="358.50" y1="152.5" y2="178.4" stroke="#c8878c" stroke-width="1"/>
<rect x="357" y="153.6" width="3" height="11.7" fill="#e05555"/>
<line x1="362.50" x2="362.50" y1="162.8" y2="178.0" stroke="#c8878c" stroke-width="1"/>
<rect x="361" y="166.3" width="3" height="3.3" fill="#e05555"/>
<line x1="366.50" x2="366.50" y1="161.3" y2="182.0" stroke="#c8878c" stroke-width="1"/>
<rect x="365" y="169.2" width="3" height="4.9" fill="#e05555"/>
<line x1="371.50" x2="371.50" y1="166.3" y2="190.7" stroke="#c8878c" stroke-width="1"/>
<rect x="370" y="174.1" width="3" height="15.6" fill="#e05555"/>
<line x1="375.50" x2="375.50" y1="181.0" y2="200.4" stroke="#c8878c" stroke-width="1"/>
<rect x="374" y="187.8" width="3" height="10.7" fill="#e05555"/>
<line x1="379.50" x2="379.50" y1="192.6" y2="214.0" stroke="#c8878c" stroke-width="1"/>
<rect x="378" y="196.9" width="3" height="7.8" fill="#e05555"/>
<line x1="383.50" x2="383.50" y1="191.7" y2="210.2" stroke="#6a9c95" stroke-width="1"/>
<rect x="382" y="203.4" width="3" height="1.0" fill="#26a08f"/>
<line x1="388.50" x2="388.50" y1="196.5" y2="221.9" stroke="#c8878c" stroke-width="1"/>
<rect x="387" y="203.4" width="3" height="16.5" fill="#e05555"/>
<line x1="392.50" x2="392.50" y1="210.2" y2="239.4" stroke="#c8878c" stroke-width="1"/>
<rect x="391" y="219.0" width="3" height="9.7" fill="#e05555"/>
<line x1="396.50" x2="396.50" y1="226.7" y2="247.2" stroke="#c8878c" stroke-width="1"/>
<rect x="395" y="228.7" width="3" height="2.9" fill="#e05555"/>
<line x1="400.50" x2="400.50" y1="208.2" y2="235.5" stroke="#6a9c95" stroke-width="1"/>
<rect x="399" y="210.2" width="3" height="21.4" fill="#26a08f"/>
<line x1="404.50" x2="404.50" y1="204.3" y2="223.8" stroke="#c8878c" stroke-width="1"/>
<rect x="403" y="209.8" width="3" height="10.1" fill="#e05555"/>
<line x1="409.50" x2="409.50" y1="216.0" y2="233.6" stroke="#c8878c" stroke-width="1"/>
<rect x="408" y="219.0" width="3" height="13.6" fill="#e05555"/>
<line x1="413.50" x2="413.50" y1="224.8" y2="245.3" stroke="#c8878c" stroke-width="1"/>
<rect x="412" y="232.6" width="3" height="4.9" fill="#e05555"/>
<line x1="417.50" x2="417.50" y1="228.7" y2="241.4" stroke="#6a9c95" stroke-width="1"/>
<rect x="416" y="235.1" width="3" height="2.4" fill="#26a08f"/>
<line x1="421.50" x2="421.50" y1="223.8" y2="241.4" stroke="#6a9c95" stroke-width="1"/>
<rect x="420" y="225.8" width="3" height="9.7" fill="#26a08f"/>
<line x1="426.50" x2="426.50" y1="200.4" y2="226.8" stroke="#6a9c95" stroke-width="1"/>
<rect x="425" y="202.4" width="3" height="23.4" fill="#26a08f"/>
<line x1="430.50" x2="430.50" y1="200.4" y2="216.0" stroke="#c8878c" stroke-width="1"/>
<rect x="429" y="202.4" width="3" height="11.7" fill="#e05555"/>
<line x1="434.50" x2="434.50" y1="212.1" y2="225.8" stroke="#c8878c" stroke-width="1"/>
<rect x="433" y="213.7" width="3" height="6.2" fill="#e05555"/>
<line x1="438.50" x2="438.50" y1="199.5" y2="225.8" stroke="#6a9c95" stroke-width="1"/>
<rect x="437" y="205.3" width="3" height="14.6" fill="#26a08f"/>
<line x1="442.50" x2="442.50" y1="196.5" y2="206.3" stroke="#6a9c95" stroke-width="1"/>
<rect x="441" y="202.4" width="3" height="2.9" fill="#26a08f"/>
<line x1="447.50" x2="447.50" y1="201.4" y2="224.8" stroke="#c8878c" stroke-width="1"/>
<rect x="446" y="202.4" width="3" height="17.5" fill="#e05555"/>
<line x1="451.50" x2="451.50" y1="216.0" y2="227.7" stroke="#6a9c95" stroke-width="1"/>
<rect x="450" y="219.0" width="3" height="1.3" fill="#26a08f"/>
<line x1="455.50" x2="455.50" y1="211.2" y2="222.8" stroke="#6a9c95" stroke-width="1"/>
<rect x="454" y="215.0" width="3" height="4.0" fill="#26a08f"/>
<line x1="459.50" x2="459.50" y1="212.1" y2="222.8" stroke="#c8878c" stroke-width="1"/>
<rect x="458" y="214.1" width="3" height="5.4" fill="#e05555"/>
<line x1="464.50" x2="464.50" y1="211.2" y2="225.8" stroke="#6a9c95" stroke-width="1"/>
<rect x="463" y="213.1" width="3" height="6.8" fill="#26a08f"/>
<line x1="468.50" x2="468.50" y1="190.7" y2="214.1" stroke="#6a9c95" stroke-width="1"/>
<rect x="467" y="191.7" width="3" height="21.4" fill="#26a08f"/>
<line x1="472.50" x2="472.50" y1="161.4" y2="195.5" stroke="#6a9c95" stroke-width="1"/>
<rect x="471" y="165.3" width="3" height="27.1" fill="#26a08f"/>
<line x1="476.50" x2="476.50" y1="142.9" y2="169.2" stroke="#6a9c95" stroke-width="1"/>
<rect x="475" y="159.5" width="3" height="4.8" fill="#26a08f"/>
<line x1="481.50" x2="481.50" y1="154.6" y2="172.1" stroke="#c8878c" stroke-width="1"/>
<rect x="480" y="159.5" width="3" height="6.8" fill="#e05555"/>
<line x1="485.50" x2="485.50" y1="117.5" y2="167.3" stroke="#6a9c95" stroke-width="1"/>
<rect x="484" y="132.2" width="3" height="34.1" fill="#26a08f"/>
<line x1="489.50" x2="489.50" y1="105.8" y2="141.9" stroke="#6a9c95" stroke-width="1"/>
<rect x="488" y="131.2" width="3" height="1.5" fill="#26a08f"/>
<line x1="493.50" x2="493.50" y1="96.0" y2="141.9" stroke="#6a9c95" stroke-width="1"/>
<rect x="492" y="97.5" width="3" height="34.3" fill="#26a08f"/>
<line x1="497.50" x2="497.50" y1="85.4" y2="110.8" stroke="#c8878c" stroke-width="1"/>
<rect x="496" y="98.1" width="3" height="7.8" fill="#e05555"/>
<line x1="502.50" x2="502.50" y1="94.2" y2="120.5" stroke="#6a9c95" stroke-width="1"/>
<rect x="501" y="104.9" width="3" height="1.1" fill="#26a08f"/>
<line x1="506.50" x2="506.50" y1="75.3" y2="111.7" stroke="#c8878c" stroke-width="1"/>
<rect x="505" y="104.9" width="3" height="1.6" fill="#e05555"/>
<line x1="510.50" x2="510.50" y1="96.2" y2="116.6" stroke="#6a9c95" stroke-width="1"/>
<rect x="509" y="102.0" width="3" height="4.5" fill="#26a08f"/>
<line x1="514.50" x2="514.50" y1="36.7" y2="104.0" stroke="#6a9c95" stroke-width="1"/>
<rect x="513" y="41.0" width="3" height="62.0" fill="#26a08f"/>
<line x1="519.50" x2="519.50" y1="32.4" y2="62.0" stroke="#c8878c" stroke-width="1"/>
<rect x="518" y="41.6" width="3" height="14.6" fill="#e05555"/>
<line x1="523.50" x2="523.50" y1="52.3" y2="82.5" stroke="#c8878c" stroke-width="1"/>
<rect x="522" y="56.2" width="3" height="1.9" fill="#e05555"/>
<line x1="527.50" x2="527.50" y1="57.2" y2="116.6" stroke="#c8878c" stroke-width="1"/>
<rect x="526" y="58.1" width="3" height="43.9" fill="#e05555"/>
<line x1="531.50" x2="531.50" y1="94.2" y2="127.3" stroke="#c8878c" stroke-width="1"/>
<rect x="530" y="101.0" width="3" height="10.7" fill="#e05555"/>
<line x1="535.50" x2="535.50" y1="89.3" y2="122.5" stroke="#6a9c95" stroke-width="1"/>
<rect x="534" y="90.3" width="3" height="21.4" fill="#26a08f"/>
<line x1="540.50" x2="540.50" y1="85.4" y2="96.2" stroke="#c8878c" stroke-width="1"/>
<rect x="539" y="90.3" width="3" height="2.0" fill="#e05555"/>
<line x1="544.50" x2="544.50" y1="78.6" y2="92.3" stroke="#6a9c95" stroke-width="1"/>
<rect x="543" y="80.0" width="3" height="11.3" fill="#26a08f"/>
<line x1="548.50" x2="548.50" y1="71.8" y2="110.8" stroke="#c8878c" stroke-width="1"/>
<rect x="547" y="80.0" width="3" height="26.9" fill="#e05555"/>
<line x1="552.50" x2="552.50" y1="63.0" y2="109.8" stroke="#6a9c95" stroke-width="1"/>
<rect x="551" y="94.2" width="3" height="12.7" fill="#26a08f"/>
<line x1="557.50" x2="557.50" y1="92.3" y2="129.3" stroke="#c8878c" stroke-width="1"/>
<rect x="556" y="94.2" width="3" height="14.6" fill="#e05555"/>
<line x1="561.50" x2="561.50" y1="93.2" y2="129.3" stroke="#c8878c" stroke-width="1"/>
<rect x="560" y="107.8" width="3" height="19.5" fill="#e05555"/>
<line x1="565.50" x2="565.50" y1="123.4" y2="157.5" stroke="#c8878c" stroke-width="1"/>
<rect x="564" y="127.3" width="3" height="24.4" fill="#e05555"/>
<line x1="569.50" x2="569.50" y1="145.8" y2="170.2" stroke="#c8878c" stroke-width="1"/>
<rect x="568" y="151.1" width="3" height="11.7" fill="#e05555"/>
<line x1="573.50" x2="573.50" y1="150.7" y2="167.3" stroke="#6a9c95" stroke-width="1"/>
<rect x="572" y="156.5" width="3" height="5.5" fill="#26a08f"/>
<line x1="578.50" x2="578.50" y1="127.3" y2="157.5" stroke="#6a9c95" stroke-width="1"/>
<rect x="577" y="128.8" width="3" height="27.7" fill="#26a08f"/>
<line x1="582.50" x2="582.50" y1="119.5" y2="151.7" stroke="#c8878c" stroke-width="1"/>
<rect x="581" y="129.2" width="3" height="12.7" fill="#e05555"/>
<line x1="586.50" x2="586.50" y1="129.2" y2="149.7" stroke="#6a9c95" stroke-width="1"/>
<rect x="585" y="138.0" width="3" height="4.9" fill="#26a08f"/>
<line x1="590.50" x2="590.50" y1="116.6" y2="140.9" stroke="#6a9c95" stroke-width="1"/>
<rect x="589" y="117.2" width="3" height="20.8" fill="#26a08f"/>
<line x1="595.50" x2="595.50" y1="98.0" y2="123.4" stroke="#6a9c95" stroke-width="1"/>
<rect x="594" y="100.0" width="3" height="17.2" fill="#26a08f"/>
<line x1="599.50" x2="599.50" y1="67.0" y2="100.5" stroke="#6a9c95" stroke-width="1"/>
<rect x="598" y="75.3" width="3" height="24.7" fill="#26a08f"/>
<line x1="603.50" x2="603.50" y1="67.9" y2="91.3" stroke="#c8878c" stroke-width="1"/>
<rect x="602" y="75.3" width="3" height="7.2" fill="#e05555"/>
<line x1="607.50" x2="607.50" y1="67.0" y2="111.7" stroke="#c8878c" stroke-width="1"/>
<rect x="606" y="82.0" width="3" height="24.9" fill="#e05555"/>
<line x1="612.50" x2="612.50" y1="83.5" y2="113.7" stroke="#6a9c95" stroke-width="1"/>
<rect x="611" y="85.4" width="3" height="21.5" fill="#26a08f"/>
<line x1="616.50" x2="616.50" y1="47.8" y2="88.0" stroke="#6a9c95" stroke-width="1"/>
<rect x="615" y="52.7" width="3" height="32.7" fill="#26a08f"/>
<line x1="620.50" x2="620.50" y1="51.7" y2="116.0" stroke="#c8878c" stroke-width="1"/>
<rect x="619" y="52.7" width="3" height="54.6" fill="#e05555"/>
<line x1="624.50" x2="624.50" y1="95.6" y2="127.7" stroke="#c8878c" stroke-width="1"/>
<rect x="623" y="107.3" width="3" height="6.8" fill="#e05555"/>
<line x1="628.50" x2="628.50" y1="103.4" y2="118.0" stroke="#6a9c95" stroke-width="1"/>
<rect x="627" y="108.2" width="3" height="4.9" fill="#26a08f"/>
<line x1="633.50" x2="633.50" y1="89.7" y2="110.8" stroke="#6a9c95" stroke-width="1"/>
<rect x="632" y="109.2" width="3" height="1.0" fill="#26a08f"/>
<line x1="637.50" x2="637.50" y1="107.3" y2="129.7" stroke="#c8878c" stroke-width="1"/>
<rect x="636" y="109.2" width="3" height="18.5" fill="#e05555"/>
<line x1="641.50" x2="641.50" y1="120.0" y2="143.3" stroke="#c8878c" stroke-width="1"/>
<rect x="640" y="127.7" width="3" height="12.7" fill="#e05555"/>
<line x1="645.50" x2="645.50" y1="122.8" y2="141.4" stroke="#6a9c95" stroke-width="1"/>
<rect x="644" y="124.8" width="3" height="15.6" fill="#26a08f"/>
<line x1="650.50" x2="650.50" y1="122.8" y2="142.0" stroke="#c8878c" stroke-width="1"/>
<rect x="649" y="124.8" width="3" height="15.6" fill="#e05555"/>
<line x1="654.50" x2="654.50" y1="95.6" y2="153.1" stroke="#6a9c95" stroke-width="1"/>
<rect x="653" y="101.4" width="3" height="38.0" fill="#26a08f"/>
<line x1="658.50" x2="658.50" y1="100.4" y2="120.0" stroke="#c8878c" stroke-width="1"/>
<rect x="657" y="101.4" width="3" height="7.8" fill="#e05555"/>
<line x1="662.50" x2="662.50" y1="102.4" y2="120.9" stroke="#c8878c" stroke-width="1"/>
<rect x="661" y="108.2" width="3" height="8.8" fill="#e05555"/>
<line x1="666.50" x2="666.50" y1="115.0" y2="160.9" stroke="#c8878c" stroke-width="1"/>
<rect x="665" y="116.0" width="3" height="41.9" fill="#e05555"/>
<line x1="671.50" x2="671.50" y1="138.4" y2="158.9" stroke="#6a9c95" stroke-width="1"/>
<rect x="670" y="141.0" width="3" height="16.9" fill="#26a08f"/>
<line x1="675.50" x2="675.50" y1="135.5" y2="146.2" stroke="#c8878c" stroke-width="1"/>
<rect x="674" y="141.4" width="3" height="2.9" fill="#e05555"/>
<line x1="679.50" x2="679.50" y1="128.7" y2="147.2" stroke="#6a9c95" stroke-width="1"/>
<rect x="678" y="130.0" width="3" height="14.3" fill="#26a08f"/>
<line x1="683.50" x2="683.50" y1="129.7" y2="158.9" stroke="#c8878c" stroke-width="1"/>
<rect x="682" y="130.6" width="3" height="24.4" fill="#e05555"/>
<line x1="688.50" x2="688.50" y1="146.2" y2="162.8" stroke="#6a9c95" stroke-width="1"/>
<rect x="687" y="151.5" width="3" height="3.1" fill="#26a08f"/>
<line x1="692.50" x2="692.50" y1="142.4" y2="157.0" stroke="#c8878c" stroke-width="1"/>
<rect x="691" y="152.1" width="3" height="4.2" fill="#e05555"/>
<line x1="696.50" x2="696.50" y1="148.2" y2="178.4" stroke="#c8878c" stroke-width="1"/>
<rect x="695" y="156.0" width="3" height="13.7" fill="#e05555"/>
<line x1="700.50" x2="700.50" y1="158.0" y2="171.6" stroke="#6a9c95" stroke-width="1"/>
<rect x="699" y="159.9" width="3" height="9.8" fill="#26a08f"/>
<line x1="704.50" x2="704.50" y1="146.3" y2="161.9" stroke="#6a9c95" stroke-width="1"/>
<rect x="703" y="149.2" width="3" height="11.7" fill="#26a08f"/>
<line x1="709.50" x2="709.50" y1="147.3" y2="165.8" stroke="#c8878c" stroke-width="1"/>
<rect x="708" y="149.2" width="3" height="13.6" fill="#e05555"/>
<line x1="713.50" x2="713.50" y1="134.6" y2="162.8" stroke="#6a9c95" stroke-width="1"/>
<rect x="712" y="146.3" width="3" height="15.6" fill="#26a08f"/>
<line x1="717.50" x2="717.50" y1="143.3" y2="152.0" stroke="#c8878c" stroke-width="1"/>
<rect x="716" y="145.3" width="3" height="4.9" fill="#e05555"/>
<line x1="721.50" x2="721.50" y1="145.3" y2="151.0" stroke="#6a9c95" stroke-width="1"/>
<rect x="720" y="146.3" width="3" height="3.9" fill="#26a08f"/>
<line x1="726.50" x2="726.50" y1="119.0" y2="147.0" stroke="#6a9c95" stroke-width="1"/>
<rect x="725" y="120.0" width="3" height="26.3" fill="#26a08f"/>
<line x1="730.50" x2="730.50" y1="102.2" y2="125.8" stroke="#6a9c95" stroke-width="1"/>
<rect x="729" y="118.0" width="3" height="3.3" fill="#26a08f"/>
<line x1="734.50" x2="734.50" y1="111.7" y2="122.9" stroke="#6a9c95" stroke-width="1"/>
<rect x="733" y="117.0" width="3" height="1.5" fill="#26a08f"/>
<line x1="738.50" x2="738.50" y1="109.2" y2="121.9" stroke="#6a9c95" stroke-width="1"/>
<rect x="737" y="111.2" width="3" height="6.8" fill="#26a08f"/>
<line x1="743.50" x2="743.50" y1="96.5" y2="117.0" stroke="#6a9c95" stroke-width="1"/>
<rect x="742" y="98.3" width="3" height="12.9" fill="#26a08f"/>
<line x1="747.50" x2="747.50" y1="84.5" y2="103.9" stroke="#6a9c95" stroke-width="1"/>
<rect x="746" y="94.6" width="3" height="3.7" fill="#26a08f"/>
<line x1="751.50" x2="751.50" y1="93.6" y2="112.2" stroke="#c8878c" stroke-width="1"/>
<rect x="750" y="94.1" width="3" height="17.1" fill="#e05555"/>
<line x1="755.50" x2="755.50" y1="102.4" y2="134.5" stroke="#c8878c" stroke-width="1"/>
<rect x="754" y="111.2" width="3" height="12.3" fill="#e05555"/>
<line x1="759.50" x2="759.50" y1="118.0" y2="132.6" stroke="#c8878c" stroke-width="1"/>
<rect x="758" y="123.9" width="3" height="1.3" fill="#e05555"/>
<line x1="764.50" x2="764.50" y1="113.1" y2="136.5" stroke="#6a9c95" stroke-width="1"/>
<rect x="763" y="115.1" width="3" height="9.7" fill="#26a08f"/>
<line x1="768.50" x2="768.50" y1="106.3" y2="122.9" stroke="#6a9c95" stroke-width="1"/>
<rect x="767" y="114.1" width="3" height="1.4" fill="#26a08f"/>
<line x1="772.50" x2="772.50" y1="107.3" y2="140.4" stroke="#c8878c" stroke-width="1"/>
<rect x="771" y="114.1" width="3" height="23.4" fill="#e05555"/>
<line x1="776.50" x2="776.50" y1="128.7" y2="140.4" stroke="#6a9c95" stroke-width="1"/>
<rect x="775" y="136.5" width="3" height="1.6" fill="#26a08f"/>
<line x1="781.50" x2="781.50" y1="130.3" y2="142.4" stroke="#c8878c" stroke-width="1"/>
<rect x="780" y="137.5" width="3" height="3.9" fill="#e05555"/>
<line x1="785.50" x2="785.50" y1="139.5" y2="183.3" stroke="#c8878c" stroke-width="1"/>
<rect x="784" y="140.4" width="3" height="29.7" fill="#e05555"/>
<line x1="789.50" x2="789.50" y1="168.7" y2="181.0" stroke="#c8878c" stroke-width="1"/>
<rect x="788" y="169.7" width="3" height="10.1" fill="#e05555"/>
<line x1="793.50" x2="793.50" y1="170.6" y2="186.2" stroke="#6a9c95" stroke-width="1"/>
<rect x="792" y="176.5" width="3" height="3.3" fill="#26a08f"/>
<line x1="797.50" x2="797.50" y1="176.5" y2="202.8" stroke="#c8878c" stroke-width="1"/>
<rect x="796" y="177.5" width="3" height="19.5" fill="#e05555"/>
<line x1="802.50" x2="802.50" y1="183.3" y2="198.0" stroke="#6a9c95" stroke-width="1"/>
<rect x="801" y="184.3" width="3" height="12.7" fill="#26a08f"/>
<line x1="806.50" x2="806.50" y1="182.9" y2="192.1" stroke="#c8878c" stroke-width="1"/>
<rect x="805" y="183.9" width="3" height="4.3" fill="#e05555"/>
<line x1="810.50" x2="810.50" y1="185.3" y2="197.0" stroke="#6a9c95" stroke-width="1"/>
<rect x="809" y="186.2" width="3" height="3.0" fill="#26a08f"/>
<line x1="814.50" x2="814.50" y1="185.3" y2="198.9" stroke="#c8878c" stroke-width="1"/>
<rect x="813" y="186.2" width="3" height="6.9" fill="#e05555"/>
<line x1="819.50" x2="819.50" y1="190.9" y2="204.6" stroke="#c8878c" stroke-width="1"/>
<rect x="818" y="192.0" width="3" height="8.7" fill="#e05555"/>
<line x1="823.50" x2="823.50" y1="174.5" y2="204.7" stroke="#6a9c95" stroke-width="1"/>
<rect x="822" y="176.3" width="3" height="24.4" fill="#26a08f"/>
<line x1="827.50" x2="827.50" y1="163.2" y2="179.2" stroke="#6a9c95" stroke-width="1"/>
<rect x="826" y="168.3" width="3" height="8.0" fill="#26a08f"/>
<line x1="831.50" x2="831.50" y1="150.4" y2="181.1" stroke="#6a9c95" stroke-width="1"/>
<rect x="830" y="167.9" width="3" height="1.0" fill="#26a08f"/>
<line x1="835.50" x2="835.50" y1="162.0" y2="187.0" stroke="#c8878c" stroke-width="1"/>
<rect x="834" y="168.3" width="3" height="11.9" fill="#e05555"/>
<line x1="840.50" x2="840.50" y1="160.2" y2="183.0" stroke="#6a9c95" stroke-width="1"/>
<rect x="839" y="173.8" width="3" height="6.3" fill="#26a08f"/>
<line x1="844.50" x2="844.50" y1="164.1" y2="176.2" stroke="#6a9c95" stroke-width="1"/>
<rect x="843" y="168.0" width="3" height="6.2" fill="#26a08f"/>
<line x1="848.50" x2="848.50" y1="165.5" y2="186.0" stroke="#c8878c" stroke-width="1"/>
<rect x="847" y="168.4" width="3" height="14.6" fill="#e05555"/>
<line x1="852.50" x2="852.50" y1="170.3" y2="185.0" stroke="#6a9c95" stroke-width="1"/>
<rect x="851" y="173.8" width="3" height="9.2" fill="#26a08f"/>
<line x1="857.50" x2="857.50" y1="172.3" y2="195.7" stroke="#c8878c" stroke-width="1"/>
<rect x="856" y="173.3" width="3" height="14.6" fill="#e05555"/>
<line x1="861.50" x2="861.50" y1="173.3" y2="406.0" stroke="#c8878c" stroke-width="1"/>
<rect x="860" y="187.9" width="3" height="83.8" fill="#e05555"/>
<line x1="865.50" x2="865.50" y1="254.1" y2="285.3" stroke="#6a9c95" stroke-width="1"/>
<rect x="864" y="269.1" width="3" height="2.6" fill="#26a08f"/>
<line x1="869.50" x2="869.50" y1="240.5" y2="275.6" stroke="#6a9c95" stroke-width="1"/>
<rect x="868" y="242.4" width="3" height="28.3" fill="#26a08f"/>
<line x1="874.50" x2="874.50" y1="230.7" y2="251.2" stroke="#6a9c95" stroke-width="1"/>
<rect x="873" y="232.1" width="3" height="11.3" fill="#26a08f"/>
<line x1="878.50" x2="878.50" y1="229.4" y2="261.0" stroke="#c8878c" stroke-width="1"/>
<rect x="877" y="232.1" width="3" height="14.2" fill="#e05555"/>
<line x1="882.50" x2="882.50" y1="240.5" y2="261.9" stroke="#c8878c" stroke-width="1"/>
<rect x="881" y="246.3" width="3" height="9.8" fill="#e05555"/>
<line x1="886.50" x2="886.50" y1="253.1" y2="271.7" stroke="#c8878c" stroke-width="1"/>
<rect x="885" y="256.1" width="3" height="12.6" fill="#e05555"/>
<line x1="890.50" x2="890.50" y1="266.8" y2="286.3" stroke="#c8878c" stroke-width="1"/>
<rect x="889" y="268.3" width="3" height="9.2" fill="#e05555"/>
<line x1="895.50" x2="895.50" y1="269.7" y2="279.5" stroke="#6a9c95" stroke-width="1"/>
<rect x="894" y="276.5" width="3" height="1.6" fill="#26a08f"/>
<line x1="899.50" x2="899.50" y1="267.8" y2="281.4" stroke="#6a9c95" stroke-width="1"/>
<rect x="898" y="273.0" width="3" height="4.5" fill="#26a08f"/>
<line x1="903.50" x2="903.50" y1="264.8" y2="276.5" stroke="#6a9c95" stroke-width="1"/>
<rect x="902" y="269.7" width="3" height="3.9" fill="#26a08f"/>
<line x1="907.50" x2="907.50" y1="259.0" y2="280.4" stroke="#c8878c" stroke-width="1"/>
<rect x="906" y="269.7" width="3" height="7.2" fill="#e05555"/>
<line x1="912.50" x2="912.50" y1="271.7" y2="287.3" stroke="#c8878c" stroke-width="1"/>
<rect x="911" y="276.9" width="3" height="5.5" fill="#e05555"/>
<line x1="916.50" x2="916.50" y1="272.2" y2="283.4" stroke="#6a9c95" stroke-width="1"/>
<rect x="915" y="274.2" width="3" height="8.2" fill="#26a08f"/>
<line x1="920.50" x2="920.50" y1="271.6" y2="281.4" stroke="#c8878c" stroke-width="1"/>
<rect x="919" y="273.6" width="3" height="6.8" fill="#e05555"/>
<line x1="924.50" x2="924.50" y1="277.5" y2="284.3" stroke="#c8878c" stroke-width="1"/>
<rect x="923" y="279.5" width="3" height="2.5" fill="#e05555"/>
<line x1="928.50" x2="928.50" y1="269.7" y2="284.3" stroke="#6a9c95" stroke-width="1"/>
<rect x="927" y="271.7" width="3" height="8.7" fill="#26a08f"/>
<line x1="933.50" x2="933.50" y1="249.2" y2="273.6" stroke="#6a9c95" stroke-width="1"/>
<rect x="932" y="260.0" width="3" height="11.7" fill="#26a08f"/>
<line x1="937.50" x2="937.50" y1="257.0" y2="282.4" stroke="#c8878c" stroke-width="1"/>
<rect x="936" y="259.0" width="3" height="19.5" fill="#e05555"/>
<line x1="941.50" x2="941.50" y1="269.7" y2="282.4" stroke="#6a9c95" stroke-width="1"/>
<rect x="940" y="277.5" width="3" height="1.0" fill="#26a08f"/>
<line x1="945.50" x2="945.50" y1="274.6" y2="300.9" stroke="#c8878c" stroke-width="1"/>
<rect x="944" y="278.5" width="3" height="15.2" fill="#e05555"/>
<line x1="950.50" x2="950.50" y1="289.2" y2="299.0" stroke="#c8878c" stroke-width="1"/>
<rect x="949" y="292.5" width="3" height="2.2" fill="#e05555"/>
<line x1="954.50" x2="954.50" y1="247.3" y2="296.0" stroke="#6a9c95" stroke-width="1"/>
<rect x="953" y="248.3" width="3" height="46.4" fill="#26a08f"/>
<line x1="958.50" x2="958.50" y1="237.5" y2="264.8" stroke="#c8878c" stroke-width="1"/>
<rect x="957" y="249.2" width="3" height="10.8" fill="#e05555"/>
<line x1="962.50" x2="962.50" y1="259.0" y2="294.1" stroke="#c8878c" stroke-width="1"/>
<rect x="961" y="260.0" width="3" height="23.4" fill="#e05555"/>
<line x1="966.50" x2="966.50" y1="247.3" y2="284.3" stroke="#6a9c95" stroke-width="1"/>
<rect x="965" y="263.3" width="3" height="20.1" fill="#26a08f"/>
<line x1="971.50" x2="971.50" y1="243.4" y2="273.6" stroke="#6a9c95" stroke-width="1"/>
<rect x="970" y="256.6" width="3" height="6.7" fill="#26a08f"/>
<line x1="975.50" x2="975.50" y1="183.0" y2="266.8" stroke="#6a9c95" stroke-width="1"/>
<rect x="974" y="191.3" width="3" height="65.7" fill="#26a08f"/>
<line x1="979.50" x2="979.50" y1="39.3" y2="200.3" stroke="#6a9c95" stroke-width="1"/>
<rect x="978" y="82.4" width="3" height="103.3" fill="#26a08f"/>
<line x1="983.50" x2="983.50" y1="48.0" y2="155.4" stroke="#c8878c" stroke-width="1"/>
<rect x="982" y="79.4" width="3" height="68.1" fill="#e05555"/>
<line x1="988.50" x2="988.50" y1="140.0" y2="209.3" stroke="#c8878c" stroke-width="1"/>
<rect x="987" y="149.1" width="3" height="35.5" fill="#e05555"/>
</g>
<line x1="580.2" y1="4" x2="978" y2="153.5" stroke="#6a6a6a" stroke-width="0.8"/>
<line x1="523.8" y1="70.3" x2="979.6" y2="241.4" stroke="#4f9c78" stroke-width="0.8"/>
<line x1="523" y1="157" x2="980" y2="328.4" stroke="#6a6a6a" stroke-width="0.8"/>
<line x1="987.8" y1="87.7" x2="997.8" y2="87.5" stroke="#c04050" stroke-width="1.6"/>
<rect x="157.6" y="109.5" width="28" height="10.6" rx="3.5" fill="#fff" fill-opacity="0.85" stroke="#222" stroke-width="0.9"/>
<text x="171.6" y="119.2" text-anchor="middle" font-size="11" font-style="italic" fill="#b82232" letter-spacing="0.3">7.16</text>
<rect x="157.6" y="104.3" width="28" height="10.6" rx="3.5" fill="#fff" fill-opacity="1" stroke="#222" stroke-width="0.9"/>
<text x="171.6" y="114.1" text-anchor="middle" font-size="11" font-style="italic" fill="#b82232" letter-spacing="0.3">7.27</text>
<rect x="484" y="379" width="32" height="12" fill="#fff" fill-opacity="0.8"/>
<line x1="489" y1="384.3" x2="495.2" y2="384.3" stroke="#b03048" stroke-width="1.4"/>
<text x="500.6" y="385.7" font-size="6.4" fill="#222">Res</text>
<rect x="53.5" y="463.9" width="939.0" height="162.39999999999998" fill="#fff"/>
<rect x="53.5" y="463.9" width="939.0" height="20.3" fill="#f4f4f4"/>
<rect x="53.5" y="504.5" width="939.0" height="20.3" fill="#f4f4f4"/>
<rect x="53.5" y="545.1" width="939.0" height="20.3" fill="#f4f4f4"/>
<rect x="53.5" y="585.7" width="939.0" height="20.3" fill="#f4f4f4"/>
<rect x="53.5" y="504.5" width="939.0" height="81.2" fill="#b080c0" fill-opacity="0.05"/>
<rect x="53.5" y="524.8" width="939.0" height="20.3" fill="url(#hatch)"/>
<rect x="53.5" y="565.4" width="939.0" height="20.3" fill="url(#hatch)"/>
<line x1="53.5" x2="992.5" y1="463.9" y2="463.9" stroke="#e6e6e6" stroke-width="0.8"/>
<text x="48.1" y="466.2" text-anchor="end" font-size="7" fill="#444" letter-spacing="-0.3">90</text>
<line x1="51" x2="53.5" y1="463.9" y2="463.9" stroke="#b8b8b8" stroke-width="0.6"/>
<line x1="52.2" x2="53.5" y1="474.0" y2="474.0" stroke="#c8c8c8" stroke-width="0.5"/>
<line x1="53.5" x2="992.5" y1="484.2" y2="484.2" stroke="#e6e6e6" stroke-width="0.8"/>
<text x="48.1" y="486.5" text-anchor="end" font-size="7" fill="#444" letter-spacing="-0.3">80</text>
<line x1="51" x2="53.5" y1="484.2" y2="484.2" stroke="#b8b8b8" stroke-width="0.6"/>
<line x1="52.2" x2="53.5" y1="494.3" y2="494.3" stroke="#c8c8c8" stroke-width="0.5"/>
<line x1="53.5" x2="992.5" y1="504.5" y2="504.5" stroke="#e6e6e6" stroke-width="0.8"/>
<text x="48.1" y="506.8" text-anchor="end" font-size="7" fill="#444" letter-spacing="-0.3">70</text>
<line x1="51" x2="53.5" y1="504.5" y2="504.5" stroke="#b8b8b8" stroke-width="0.6"/>
<line x1="52.2" x2="53.5" y1="514.6" y2="514.6" stroke="#c8c8c8" stroke-width="0.5"/>
<line x1="53.5" x2="992.5" y1="524.8" y2="524.8" stroke="#e6e6e6" stroke-width="0.8"/>
<text x="48.1" y="527.1" text-anchor="end" font-size="7" fill="#444" letter-spacing="-0.3">60</text>
<line x1="51" x2="53.5" y1="524.8" y2="524.8" stroke="#b8b8b8" stroke-width="0.6"/>
<line x1="52.2" x2="53.5" y1="534.9" y2="534.9" stroke="#c8c8c8" stroke-width="0.5"/>
<line x1="53.5" x2="992.5" y1="545.1" y2="545.1" stroke="#e6e6e6" stroke-width="0.8"/>
<text x="48.1" y="547.4" text-anchor="end" font-size="7" fill="#444" letter-spacing="-0.3">50</text>
<line x1="51" x2="53.5" y1="545.1" y2="545.1" stroke="#b8b8b8" stroke-width="0.6"/>
<line x1="52.2" x2="53.5" y1="555.2" y2="555.2" stroke="#c8c8c8" stroke-width="0.5"/>
<line x1="53.5" x2="992.5" y1="565.4" y2="565.4" stroke="#e6e6e6" stroke-width="0.8"/>
<text x="48.1" y="567.7" text-anchor="end" font-size="7" fill="#444" letter-spacing="-0.3">40</text>
<line x1="51" x2="53.5" y1="565.4" y2="565.4" stroke="#b8b8b8" stroke-width="0.6"/>
<line x1="52.2" x2="53.5" y1="575.5" y2="575.5" stroke="#c8c8c8" stroke-width="0.5"/>
<line x1="53.5" x2="992.5" y1="585.7" y2="585.7" stroke="#e6e6e6" stroke-width="0.8"/>
<text x="48.1" y="588.0" text-anchor="end" font-size="7" fill="#444" letter-spacing="-0.3">30</text>
<line x1="51" x2="53.5" y1="585.7" y2="585.7" stroke="#b8b8b8" stroke-width="0.6"/>
<line x1="52.2" x2="53.5" y1="595.8" y2="595.8" stroke="#c8c8c8" stroke-width="0.5"/>
<line x1="53.5" x2="992.5" y1="606.0" y2="606.0" stroke="#e6e6e6" stroke-width="0.8"/>
<text x="48.1" y="608.3" text-anchor="end" font-size="7" fill="#444" letter-spacing="-0.3">20</text>
<line x1="51" x2="53.5" y1="606.0" y2="606.0" stroke="#b8b8b8" stroke-width="0.6"/>
<line x1="52.2" x2="53.5" y1="616.1" y2="616.1" stroke="#c8c8c8" stroke-width="0.5"/>
<line x1="53.5" x2="992.5" y1="626.3" y2="626.3" stroke="#e6e6e6" stroke-width="0.8"/>
<text x="48.1" y="628.6" text-anchor="end" font-size="7" fill="#444" letter-spacing="-0.3">10</text>
<line x1="51" x2="53.5" y1="626.3" y2="626.3" stroke="#b8b8b8" stroke-width="0.6"/>
<rect x="53.5" y="463.9" width="939.0" height="162.39999999999998" fill="none" stroke="#e2e2e2" stroke-width="0.8"/>
<line x1="53.5" x2="992.5" y1="504.5" y2="504.5" stroke="#5a5a5a" stroke-width="0.9" stroke-dasharray="4.6,2.8"/>
<line x1="53.5" x2="992.5" y1="585.7" y2="585.7" stroke="#5a5a5a" stroke-width="0.9" stroke-dasharray="4.6,2.8"/>
<polyline clip-path="url(#cr)" points="53.8,575.4 57.9,577.0 61.6,577.7 66.2,586.9 69.5,585.6 74.9,591.4 79.0,571.1 83.2,575.4 87.6,562.0 92.1,561.4 95.9,568.3 100.8,570.8 109.0,577.0 113.2,573.2 122.2,550.2 126.3,552.3 130.1,550.7 134.6,535.3 138.7,525.4 143.3,520.5 147.8,511.4 151.9,507.8 156.0,530.4 160.1,519.7 164.8,529.6 169.2,526.3 176.6,506.5 181.6,531.2 185.7,529.9 194.8,541.1 198.9,539.4 203.0,523.0 206.6,516.4 211.5,509.0 215.7,522.1 219.8,524.6 224.4,516.4 228.8,528.7 233.0,538.6 237.1,543.6 241.2,547.4 245.3,537.8 249.4,545.2 253.6,544.4 258.5,539.4 262.6,530.9 266.8,548.5 270.9,548.5 275.8,543.6 280.4,547.7 284.1,542.4 288.2,542.4 292.3,550.2 296.4,569.1 300.5,563.3 305.5,560.1 309.6,557.6 313.7,555.1 317.9,560.9 322.5,571.3 326.9,569.1 331.0,557.9 335.2,558.4 339.3,547.7 343.4,532.5 347.0,540.2 351.9,555.0 356.1,559.4 360.2,561.1 364.3,562.4 369.3,568.7 373.4,572.0 377.5,574.3 381.6,574.3 385.7,578.9 390.7,583.8 394.8,584.7 399.4,568.7 403.5,572.3 408.0,577.6 412.1,579.2 416.2,577.6 420.3,569.8 424.5,552.9 429.1,558.8 433.5,561.6 437.3,551.7 441.8,550.1 445.9,560.4 450.5,559.1 455.0,555.8 459.1,558.3 463.2,553.3 467.3,539.3 471.4,522.0 475.6,519.2 480.2,524.8 484.3,509.3 488.4,508.8 492.9,497.3 495.0,499.4 497.5,502.7 501.6,503.0 505.7,503.8 510.2,502.7 514.4,484.6 518.9,496.1 523.0,497.7 527.1,527.4 531.3,533.0 535.4,524.4 539.5,524.8 544.1,521.2 548.1,536.0 552.4,531.0 556.8,539.3 560.9,547.5 565.1,558.2 570.0,563.2 574.4,559.9 578.2,546.2 582.4,551.1 586.5,549.2 590.6,540.9 594.7,531.0 599.2,521.5 603.8,526.1 608.4,539.0 612.4,529.1 616.6,518.7 621.1,542.2 626.0,545.5 630.2,542.9 634.3,543.4 638.4,551.1 642.5,557.4 646.6,549.6 651.2,555.5 655.2,538.0 659.4,541.8 663.9,545.1 668.0,561.1 672.1,554.5 676.3,555.5 680.4,549.2 685.3,557.8 689.4,556.6 693.6,558.8 698.0,564.4 702.3,559.1 706.3,552.9 710.5,558.3 715.0,549.2 719.1,551.2 723.2,547.9 727.4,535.7 731.5,534.4 735.9,533.1 740.2,529.8 744.2,524.5 748.8,521.5 753.4,534.1 757.4,541.8 762.0,543.5 766.1,537.4 770.2,536.9 774.3,552.2 779.3,552.9 783.1,555.5 787.5,572.3 792.2,577.1 796.2,574.4 800.3,583.4 804.4,572.6 808.4,573.9 812.9,572.6 817.4,576.2 821.9,579.3 826.0,558.2 830.0,551.9 833.9,552.3 838.6,559.5 842.9,554.6 847.1,550.5 851.5,560.0 856.0,552.8 859.6,561.8 864.1,595.1 868.1,593.7 872.8,573.9 876.7,568.5 881.2,573.2 885.7,577.1 890.2,580.7 894.7,584.3 898.7,584.0 902.8,581.1 907.3,578.0 911.8,580.4 915.9,583.4 920.3,576.2 924.4,578.6 928.5,579.3 933.4,564.5 936.6,559.2 940.9,570.1 945.2,570.5 949.7,577.9 953.6,578.3 958.1,542.3 962.4,550.0 966.7,561.2 970.6,548.7 975.0,544.8 983.8,493.5 988.1,519.4 992.0,531.5" fill="none" stroke="#7a3a86" stroke-width="1.2" stroke-linejoin="round"/>
<line x1="514.4" y1="484.6" x2="992" y2="492.4" stroke="#b8303a" stroke-width="1.8"/>
<line x1="864.1" y1="595.1" x2="992" y2="571.9" stroke="#5a9ad8" stroke-width="1.5"/>
<g>
<text x="895" y="650" font-size="27" font-weight="bold" fill="#22917f" stroke="#22917f" stroke-width="1.7" stroke-linejoin="round" textLength="65.3" lengthAdjust="spacingAndGlyphs">Turb</text>
<circle cx="971.7" cy="642.5" r="8.4" fill="#fff" stroke="#1e1414" stroke-width="1.5"/>
<line x1="963.3" y1="642.5" x2="980.1" y2="642.5" stroke="#1e1414" stroke-width="1.2"/>
<line x1="971.7" y1="634.1" x2="971.7" y2="650.9" stroke="#1e1414" stroke-width="1.2"/>
<circle cx="971.7" cy="642.5" r="5" fill="none" stroke="#2a2020" stroke-width="0.9" stroke-dasharray="1.6,2.33" stroke-dashoffset="0.8"/>
<line x1="971.8" y1="623" x2="971.8" y2="633" stroke="#e74c3c" stroke-width="0.8"/>
<rect x="968.2" y="625.1" width="7.2" height="6.8" fill="#e74c3c"/>
<line x1="980.2" y1="599.4" x2="980.2" y2="633.8" stroke="#239a8a" stroke-width="0.8"/>
<rect x="976.6" y="601.4" width="7.2" height="31.2" fill="#239a8a"/>
</g>
</svg>
<div class="t" id="t1" style="top:2.4px;font-size:14.5px;line-height:20px;"><span style="display:inline-block;transform:scaleX(1.186);transform-origin:center">ARUSDT 1d - Start using Turbo Trade Bot today : @tbsignalbot</span></div>
<div class="t" id="t2" style="top:443px;font-size:14.5px;line-height:20px;"><span style="display:inline-block;transform:scaleX(1.165);transform-origin:center">RSI @tbsignalbot</span></div>
</div></body></html>
